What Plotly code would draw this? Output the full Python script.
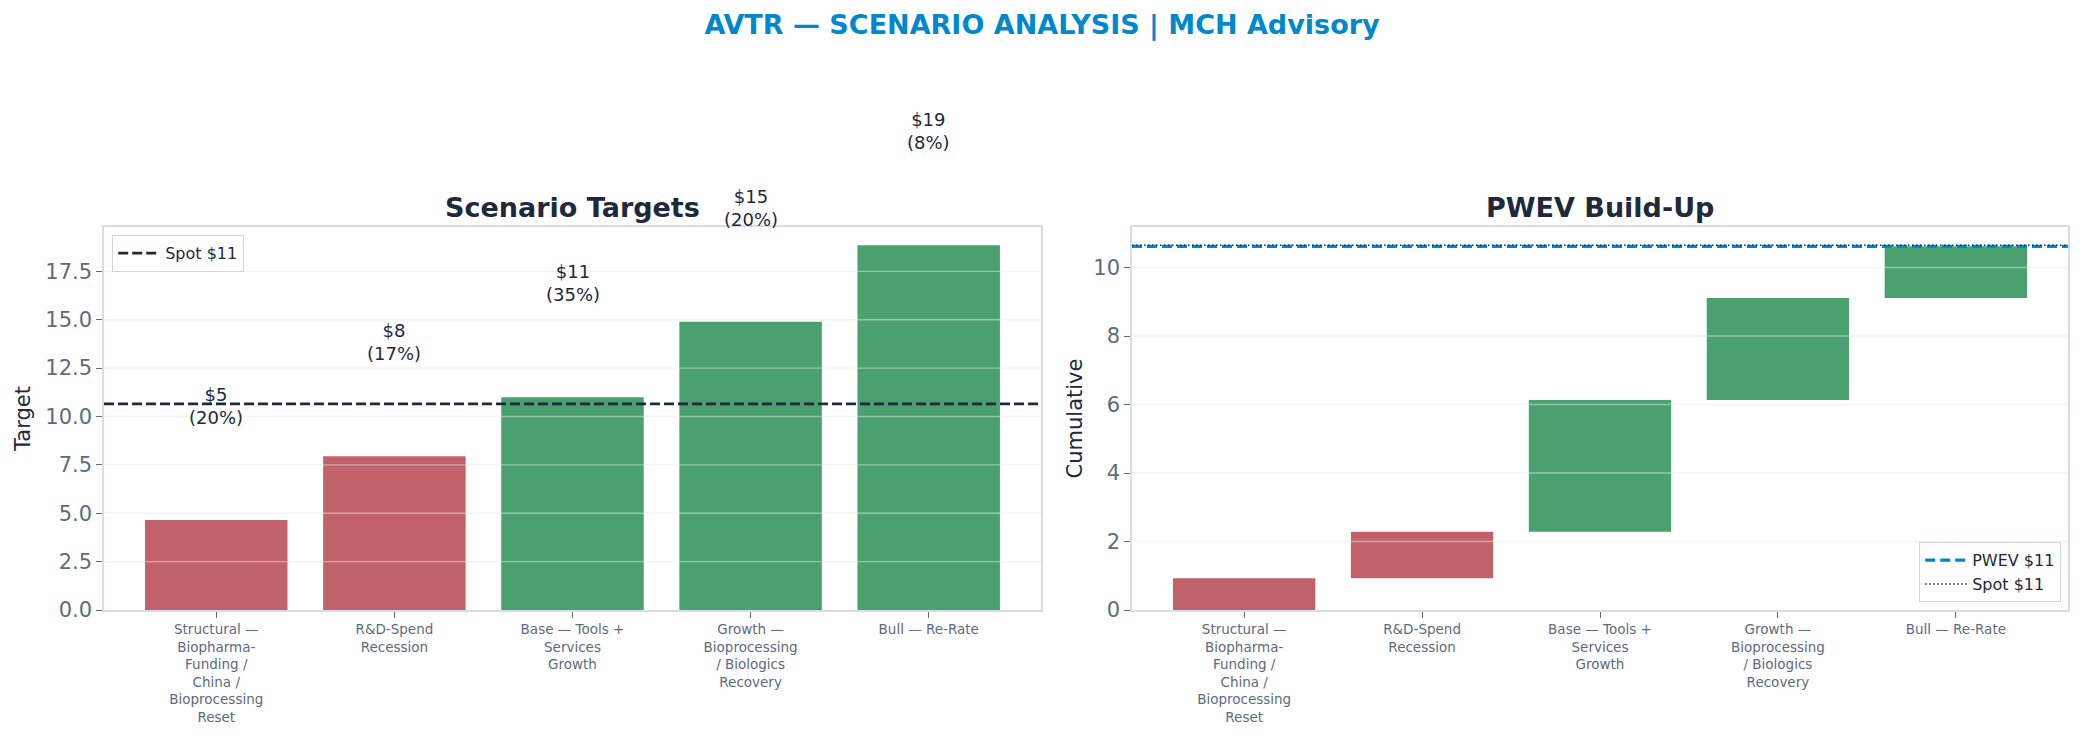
import textwrap
import plotly.graph_objects as go

# ---------------- data ----------------
scenarios = [
    "Structural — Biopharma-Funding / China / Bioprocessing Reset",
    "R&D-Spend Recession",
    "Base — Tools + Services Growth",
    "Growth — Bioprocessing / Biologics Recovery",
    "Bull — Re-Rate",
]
targets = [4.65, 7.95, 11.0, 14.9, 18.85]
probs = [0.20, 0.17, 0.35, 0.20, 0.08]
spot = 10.65
left_ticks = [0, 2.5, 5.0, 7.5, 10.0, 12.5, 15.0, 17.5]
right_ticks = [0, 2, 4, 6, 8, 10]

# ---------------- derived ----------------
labels = ["<br>".join(textwrap.wrap(s, 14)) for s in scenarios]
RED, GREEN = "#c1626b", "#4aa16f"
colors = [RED if t < spot else GREEN for t in targets]
contrib = [t * p for t, p in zip(targets, probs)]
bases = []
acc = 0.0
for c in contrib:
    bases.append(acc)
    acc += c
pwev = acc

left_max = max(targets) * 1.05
right_max = max(pwev, spot) * 1.05
n = len(labels)
x_range = [-0.4 - 0.048 * (n - 0.2), n - 0.6 + 0.048 * (n - 0.2)]

W, H = 2084, 742
DARK = "#1e293b"
SLATE = "#5b6b80"
FRAME = "#d5dde8"
FONT = "DejaVu Sans"

def px_x(v):
    return v / W

def px_y(v):
    return 1 - v / H

fig = go.Figure()

fig.add_trace(go.Bar(x=labels, y=targets, marker=dict(color=colors, line=dict(width=0)),
                     showlegend=False, xaxis="x", yaxis="y", hoverinfo="skip"))
fig.add_trace(go.Bar(x=labels, y=contrib, base=bases, marker=dict(color=colors, line=dict(width=0)),
                     showlegend=False, xaxis="x2", yaxis="y2", hoverinfo="skip"))

annotations = []
# value labels above left bars (may extend above the plot area, so use the axis-domain scale)
for lab, t, p in zip(labels, targets, probs):
    annotations.append(dict(x=lab, y=(t + 5.9) / left_max, xref="x", yref="y domain",
                            text=f"${t:.0f}<br>({p:.0%})",
                            showarrow=False, yanchor="middle", xanchor="center",
                            font=dict(family=FONT, size=18, color=DARK)))

shapes = []
# gridlines drawn above bars (matplotlib-style)
for t in left_ticks[1:]:
    shapes.append(dict(type="line", xref="x domain", yref="y", x0=0, x1=1, y0=t, y1=t,
                       line=dict(color="rgba(226,232,240,0.5)", width=1.3), layer="above"))
for t in right_ticks[1:]:
    shapes.append(dict(type="line", xref="x2 domain", yref="y2", x0=0, x1=1, y0=t, y1=t,
                       line=dict(color="rgba(226,232,240,0.5)", width=1.3), layer="above"))

shapes.append(dict(type="line", xref="x domain", yref="y", x0=0, x1=1, y0=spot, y1=spot,
                   line=dict(color=DARK, width=2.6, dash="10px,4px"), layer="above",
                   name=f"Spot ${spot:.0f}", showlegend=True, legend="legend"))
shapes.append(dict(type="line", xref="x2 domain", yref="y2", x0=0, x1=1, y0=pwev, y1=pwev,
                   line=dict(color="#0088cc", width=3.2, dash="10px,5px"), layer="above",
                   name=f"PWEV ${pwev:.0f}", showlegend=True, legend="legend2"))
shapes.append(dict(type="line", xref="x2 domain", yref="y2", x0=0, x1=1, y0=spot, y1=spot,
                   line=dict(color=DARK, width=1.5, dash="1.5px,2.5px"), layer="above",
                   name=f"Spot ${spot:.0f}", showlegend=True, legend="legend2"))

axis_common = dict(showline=True, mirror=True, linecolor=FRAME, linewidth=1.5,
                   ticks="outside", ticklen=6, tickwidth=1.2, tickcolor=SLATE,
                   showgrid=False, zeroline=False, automargin=False)

y_dom = [px_y(610), px_y(227)]

annotations += [
    dict(text="<b>Scenario Targets</b>", x=(px_x(104) + px_x(1041)) / 2, y=px_y(207.5),
         xref="paper", yref="paper", showarrow=False, xanchor="center", yanchor="middle",
         font=dict(family=FONT, size=27, color=DARK)),
    dict(text="<b>PWEV Build-Up</b>", x=(px_x(1132) + px_x(2068)) / 2, y=px_y(207.5),
         xref="paper", yref="paper", showarrow=False, xanchor="center", yanchor="middle",
         font=dict(family=FONT, size=27, color=DARK)),
]

fig.update_layout(
    width=W, height=H,
    margin=dict(l=0, r=0, t=0, b=0, autoexpand=False),
    paper_bgcolor="white", plot_bgcolor="white",
    bargap=0.2,
    font=dict(family=FONT, color=DARK),
    shapes=shapes,
    annotations=annotations,
    title=dict(text="<b>AVTR — SCENARIO ANALYSIS | MCH Advisory</b>", x=0.5, xanchor="center",
               y=px_y(25), yanchor="middle", font=dict(family=FONT, size=27, color="#0088cc")),
    xaxis=dict(domain=[px_x(104), px_x(1041)], range=x_range, anchor="y",
               tickfont=dict(family=FONT, size=13.5, color=SLATE), **axis_common),
    yaxis=dict(domain=y_dom, range=[0, left_max], anchor="x",
               tickvals=left_ticks, ticktext=[f"{v:.1f}" for v in left_ticks],
               tickfont=dict(family=FONT, size=21, color=SLATE),
               title=dict(text="Target", font=dict(family=FONT, size=21, color=DARK), standoff=9),
               **axis_common),
    xaxis2=dict(domain=[px_x(1132), px_x(2068)], range=x_range, anchor="y2",
                tickfont=dict(family=FONT, size=13.5, color=SLATE), **axis_common),
    yaxis2=dict(domain=y_dom, range=[0, right_max], anchor="x2",
                tickvals=right_ticks, ticktext=[str(v) for v in right_ticks],
                tickfont=dict(family=FONT, size=21, color=SLATE),
                title=dict(text="Cumulative", font=dict(family=FONT, size=21, color=DARK), standoff=5),
                **axis_common),
    legend=dict(x=px_x(112), y=px_y(235), xanchor="left", yanchor="top", itemwidth=42,
                bgcolor="white", bordercolor="#d0d5dd", borderwidth=1.2,
                font=dict(family=FONT, size=16, color=DARK)),
    legend2=dict(x=px_x(2061), y=px_y(602), xanchor="right", yanchor="bottom", itemwidth=42,
                 bgcolor="white", bordercolor="#d0d5dd", borderwidth=1.2,
                 font=dict(family=FONT, size=16, color=DARK)),
)

fig.write_html("out.html")
